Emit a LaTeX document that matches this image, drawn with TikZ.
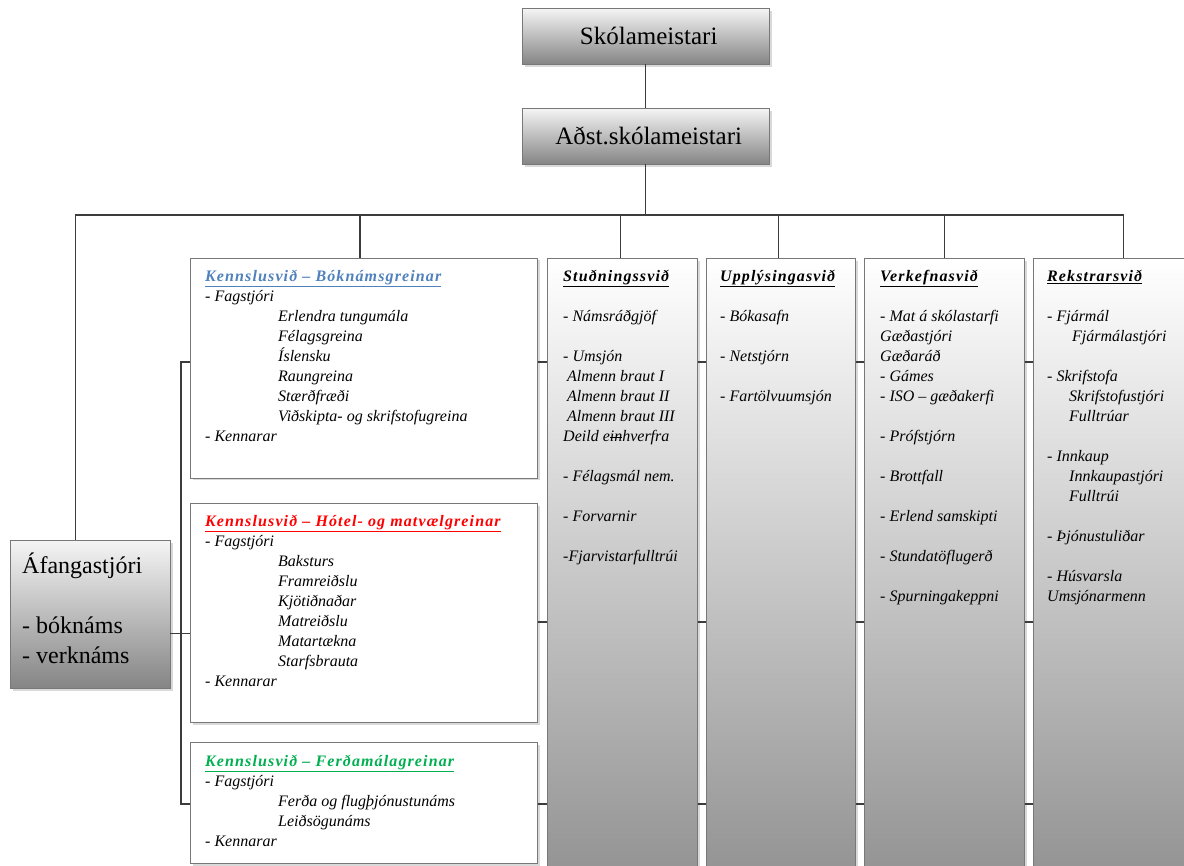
\documentclass[tikz,border=0pt]{standalone}
\usepackage{fontspec}
\setmainfont{Liberation Serif}
\usepackage{tikz}
\usetikzlibrary{shapes,arrows,positioning,calc,shadows}

\definecolor{linegray}{RGB}{60,60,60}
\definecolor{boxedge}{RGB}{120,120,120}
\definecolor{kblue}{RGB}{79,129,189}
\definecolor{kred}{RGB}{255,0,0}
\definecolor{kgreen}{RGB}{0,176,80}

\newcommand{\svidhead}[1]{{\addfontfeature{LetterSpace=7}\textbf{\underline{#1}}}}
\newcommand{\strk}[1]{\setbox0\hbox{#1}\rlap{\rule[3.5pt]{\wd0}{0.7pt}}#1}

\begin{document}
\begin{tikzpicture}[x=1pt,y=-1pt,
  link/.style={draw=linegray,line width=1.1pt},
  bossbox/.style={draw=boxedge,top color=black!4,bottom color=black!48,
    minimum width=247pt,minimum height=56pt,inner sep=0pt,anchor=north west,
    drop shadow={shadow xshift=3pt,shadow yshift=-3pt,opacity=.3},
    font=\fontsize{25}{30}\selectfont},
  svidcol/.style={draw=boxedge,line width=.8pt,top color=white,bottom color=black!42,
    inner sep=0pt,anchor=north west,minimum height=612pt,
    drop shadow={shadow xshift=3pt,shadow yshift=-3pt,opacity=.3}},
  kbox/.style={draw=boxedge,line width=1pt,fill=white,inner sep=0pt,
    anchor=north west,minimum width=347pt,
    drop shadow={shadow xshift=2pt,shadow yshift=-2pt,opacity=.3}},
  boxtext/.style={anchor=north west,align=left,inner sep=0pt,
    font=\itshape\fontsize{16}{20}\selectfont}
]
\useasboundingbox (0,0) rectangle (1184,866);
\clip (0,0) rectangle (1184,866);

% stjornendur
\node[bossbox] (skola) at (522,8) {\hspace*{6pt}Skólameistari};
\node[bossbox] (adst) at (522,108) {\hspace*{6pt}Aðst.skólameistari};

% svid
\node[svidcol,minimum width=150pt] (stud) at (547,258) {};
\node[svidcol,minimum width=149pt] (upp) at (706,258) {};
\node[svidcol,minimum width=160pt] (verk) at (864,258) {};
\node[svidcol,minimum width=180pt] (rek) at (1033,258) {};

% kennslusvid
\node[kbox,minimum height=220pt] (kb1) at (190,258) {};
\node[kbox,minimum height=219pt] (kb2) at (190,503) {};
\node[kbox,minimum height=121pt] (kb3) at (190,742) {};

% afangastjori
\node[draw=boxedge,top color=black!4,bottom color=black!48,inner sep=0pt,
  anchor=north west,minimum width=160pt,minimum height=148pt,
  drop shadow={shadow xshift=3pt,shadow yshift=-3pt,opacity=.3}] (afanga) at (10,540) {};

% tengingar
\coordinate (bus) at (adst.south |- 0,215);
\coordinate (spinetop) at (181,362);
\coordinate (spinebot) at (181,804);
\draw[link] (skola) -- (adst);
\draw[link] (adst) -- (bus);
\draw[link] (bus) -| ([xshift=-15pt]afanga.north);
\draw[link] (bus) -| ([xshift=-4pt]kb1.north);
\draw[link] (bus) -| ([xshift=-2pt]stud.north);
\draw[link] (bus) -| ([xshift=-2pt]upp.north);
\draw[link] (bus) -| (verk.north);
\draw[link] (bus) -| (rek.north);
\draw[link] (kb1.west |- spinetop) -- (spinetop) -- (spinebot) -- (kb3.west |- spinebot);
\draw[link] ([yshift=-19pt]afanga.east) -- ([yshift=-19pt]afanga.east -| kb2.west);
\foreach \k/\y in {kb1/362,kb2/622,kb3/804} {
  \draw[link] (\k.east |- 0,\y) -- (stud.west |- 0,\y);
  \draw[link] (stud.east |- 0,\y) -- (upp.west |- 0,\y);
  \draw[link] (upp.east |- 0,\y) -- (verk.west |- 0,\y);
  \draw[link] (verk.east |- 0,\y) -- (rek.west |- 0,\y);
}

% textar
\node[anchor=north west,align=left,inner sep=0pt,font=\fontsize{24}{30}\selectfont]
  (afangatxt) at (22,553) {Áfangastjóri\\[30pt]- bóknáms\\- verknáms};

\node[boxtext] (kb1txt) at (205,270) {{\color{kblue}\svidhead{Kennslusvið – Bóknámsgreinar}}\\
- Fagstjóri\\
\hspace*{73pt}Erlendra tungumála\\
\hspace*{73pt}Félagsgreina\\
\hspace*{73pt}Íslensku\\
\hspace*{73pt}Raungreina\\
\hspace*{73pt}Stærðfræði\\
\hspace*{73pt}Viðskipta- og skrifstofugreina\\
- Kennarar};

\node[boxtext] (kb2txt) at (205,515) {{\color{kred}\svidhead{Kennslusvið – Hótel- og matvælgreinar}}\\
- Fagstjóri\\
\hspace*{73pt}Baksturs\\
\hspace*{73pt}Framreiðslu\\
\hspace*{73pt}Kjötiðnaðar\\
\hspace*{73pt}Matreiðslu\\
\hspace*{73pt}Matartækna\\
\hspace*{73pt}Starfsbrauta\\
- Kennarar};

\node[boxtext] (kb3txt) at (205,755) {{\color{kgreen}\svidhead{Kennslusvið – Ferðamálagreinar}}\\
- Fagstjóri\\
\hspace*{73pt}Ferða og flugþjónustunáms\\
\hspace*{73pt}Leiðsögunáms\\
- Kennarar};

\node[boxtext] (studtxt) at (563,270) {\svidhead{Stuðningssvið}\\[20pt]
- Námsráðgjöf\\[20pt]
- Umsjón\\
\hspace*{4pt}Almenn braut I\\
\hspace*{4pt}Almenn braut II\\
\hspace*{4pt}Almenn braut III\\
Deild e\strk{in}hverfra\\[20pt]
- Félagsmál nem.\\[20pt]
- Forvarnir\\[20pt]
-Fjarvistarfulltrúi};

\node[boxtext] (upptxt) at (720,270) {\svidhead{Upplýsingasvið}\\[20pt]
- Bókasafn\\[20pt]
- Netstjórn\\[20pt]
- Fartölvuumsjón};

\node[boxtext] (verktxt) at (880,270) {\svidhead{Verkefnasvið}\\[20pt]
- Mat á skólastarfi\\
Gæðastjóri\\
Gæðaráð\\
- Gámes\\
- ISO – gæðakerfi\\[20pt]
- Prófstjórn\\[20pt]
- Brottfall\\[20pt]
- Erlend samskipti\\[20pt]
- Stundatöflugerð\\[20pt]
- Spurningakeppni};

\node[boxtext] (rektxt) at (1047,270) {\svidhead{Rekstrarsvið}\\[20pt]
- Fjármál\\
\hspace*{25pt}Fjármálastjóri\\[20pt]
- Skrifstofa\\
\hspace*{22pt}Skrifstofustjóri\\
\hspace*{22pt}Fulltrúar\\[20pt]
- Innkaup\\
\hspace*{22pt}Innkaupastjóri\\
\hspace*{22pt}Fulltrúi\\[20pt]
- Þjónustuliðar\\[20pt]
- Húsvarsla\\
Umsjónarmenn};
\end{tikzpicture}
\end{document}
